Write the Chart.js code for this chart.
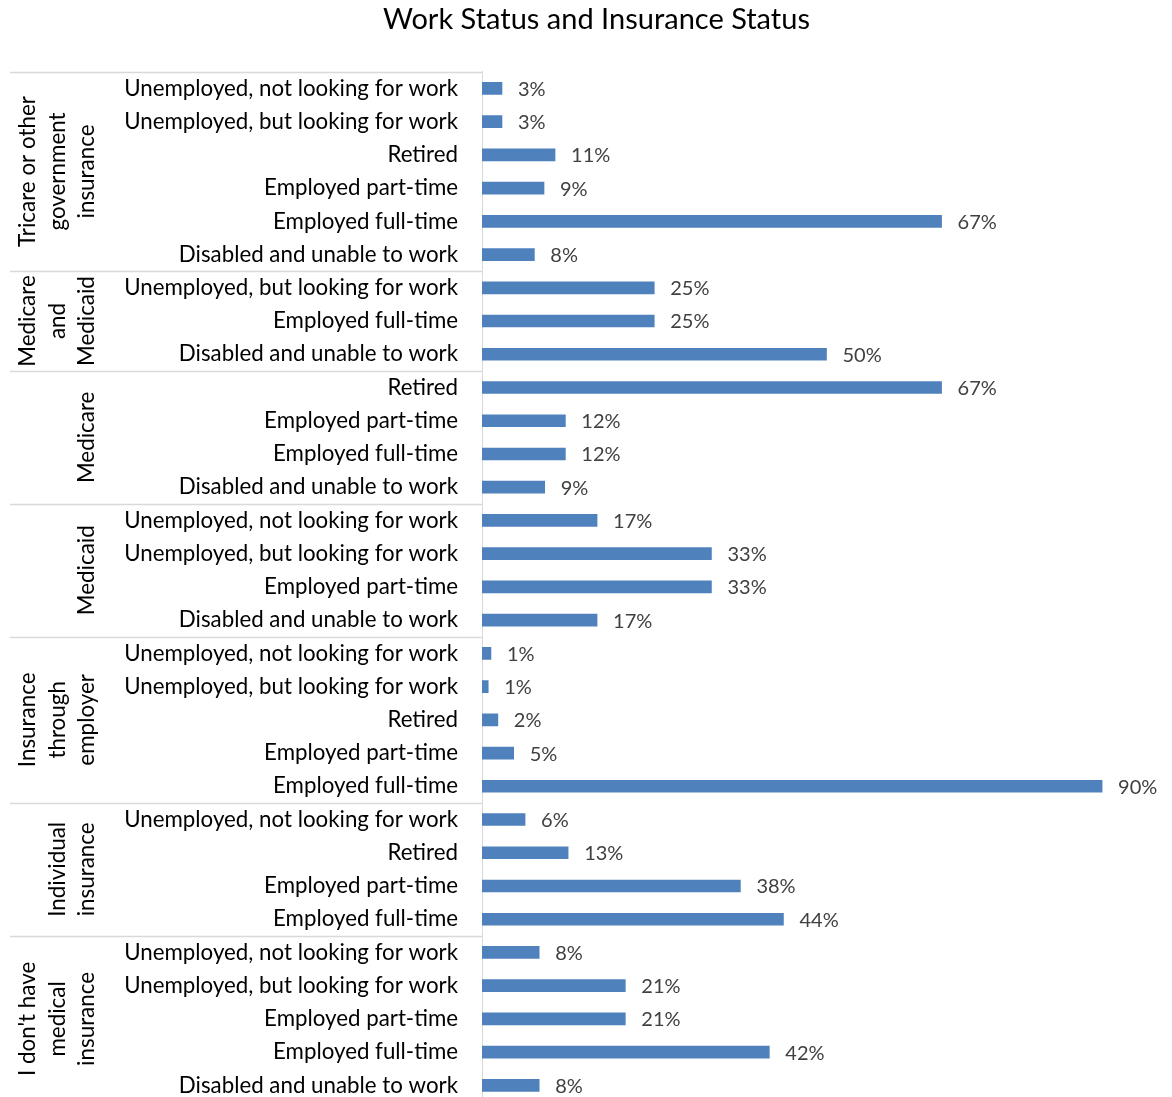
<!DOCTYPE html>
<html>
<head>
<meta charset="utf-8">
<script src="https://cdn.jsdelivr.net/npm/chart.js@4.4.0/dist/chart.umd.min.js"></script>
<style>
  html, body { margin: 0; padding: 0; overflow: hidden; background: #fff; }
  #wrap { width: 1172px; height: 1102px; position: relative; }
</style>
</head>
<body>
<div id="wrap"><canvas id="grafico"></canvas></div>
<script>
// categorias (de cima para baixo)
var grupos = [
  ['Tricare or other', 'government', 'insurance'],
  ['Medicare', 'and', 'Medicaid'],
  ['Medicare'],
  ['Medicaid'],
  ['Insurance', 'through', 'employer'],
  ['Individual', 'insurance'],
  ["I don't have", 'medical', 'insurance']
];
var tamanhoGrupo = [6, 3, 4, 4, 5, 4, 5];

var situacao = [
  'Unemployed, not looking for work', 'Unemployed, but looking for work', 'Retired',
  'Employed part-time', 'Employed full-time', 'Disabled and unable to work',
  'Unemployed, but looking for work', 'Employed full-time', 'Disabled and unable to work',
  'Retired', 'Employed part-time', 'Employed full-time', 'Disabled and unable to work',
  'Unemployed, not looking for work', 'Unemployed, but looking for work', 'Employed part-time', 'Disabled and unable to work',
  'Unemployed, not looking for work', 'Unemployed, but looking for work', 'Retired', 'Employed part-time', 'Employed full-time',
  'Unemployed, not looking for work', 'Retired', 'Employed part-time', 'Employed full-time',
  'Unemployed, not looking for work', 'Unemployed, but looking for work', 'Employed part-time', 'Employed full-time', 'Disabled and unable to work'
];

// percentuais
var valores = [
  2.9, 2.9, 10.6, 9.0, 66.7, 7.6,
  25, 25, 50,
  66.7, 12.1, 12.1, 9.1,
  16.7, 33.3, 33.3, 16.7,
  1.3, 0.9, 2.3, 4.6, 90,
  6.25, 12.5, 37.5, 43.75,
  8.3, 20.8, 20.8, 41.7, 8.3
];

var fonte = 'Lato, "Open Sans", sans-serif';
var corBarra = '#4F81BD';
var corLinha = '#D9D9D9';

var pluginGrupos = {
  id: 'grupos',
  afterDraw: function(chart) {
    var ctx = chart.ctx;
    var area = chart.chartArea;
    var linha = (area.bottom - area.top) / situacao.length;

    ctx.save();
    ctx.strokeStyle = corLinha;
    ctx.lineWidth = 1.5;
    var inicio = 0;
    for (var g = 0; g < grupos.length; g++) {
      var topo = area.top + inicio * linha;
      var fundo = topo + tamanhoGrupo[g] * linha;
      ctx.beginPath();
      ctx.moveTo(10, Math.round(topo) + 0.5);
      ctx.lineTo(area.left, Math.round(topo) + 0.5);
      ctx.stroke();

      // texto do grupo, girado
      var meio = (topo + fundo) / 2;
      var linhas = grupos[g];
      ctx.fillStyle = '#000';
      ctx.font = '22.4px ' + fonte;
      ctx.textAlign = 'center';
      ctx.textBaseline = 'middle';
      for (var k = 0; k < linhas.length; k++) {
        var x = 87 - (linhas.length - 1 - k) * 29.5;
        ctx.save();
        ctx.translate(x, meio);
        ctx.rotate(-Math.PI / 2);
        ctx.fillText(linhas[k], 0, 0);
        ctx.restore();
      }
      inicio += tamanhoGrupo[g];
    }

    // rotulos de dados
    var meta = chart.getDatasetMeta(0);
    ctx.fillStyle = '#404040';
    ctx.font = '20px ' + fonte;
    ctx.textAlign = 'left';
    ctx.textBaseline = 'middle';
    meta.data.forEach(function(barra, i) {
      ctx.fillText(Math.round(valores[i]) + '%', barra.x + 16, barra.y + 1);
    });
    ctx.restore();
  }
};

var char1 = new Chart(document.getElementById('grafico'), {
  type: 'bar',
  data: {
    labels: situacao,
    datasets: [{
      data: valores,
      backgroundColor: corBarra,
      barThickness: 12
    }]
  },
  options: {
    indexAxis: 'y',
    responsive: true,
    maintainAspectRatio: false,
    animation: false,
    layout: { padding: { left: 22, right: 1, top: 0, bottom: 0 } },
    plugins: {
      legend: { display: false },
      tooltip: { enabled: false },
      title: {
        display: true,
        text: 'Work Status and Insurance Status',
        color: '#000',
        font: { family: fonte, size: 29, weight: 'normal', lineHeight: 1.2 },
        padding: { top: 2, bottom: 35 }
      }
    },
    scales: {
      x: { display: false, min: 0, max: 100 },
      y: {
        grid: { display: false, drawTicks: false },
        border: { display: true, color: corLinha, width: 1 },
        ticks: { color: '#000', font: { family: fonte, size: 22.3 }, padding: 24, autoSkip: false },
        afterFit: function(scale) {
          scale.width = 460;
          scale.paddingTop = 0;
          scale.paddingBottom = 0;
        }
      }
    }
  },
  plugins: [pluginGrupos]
});
</script>
</body>
</html>
